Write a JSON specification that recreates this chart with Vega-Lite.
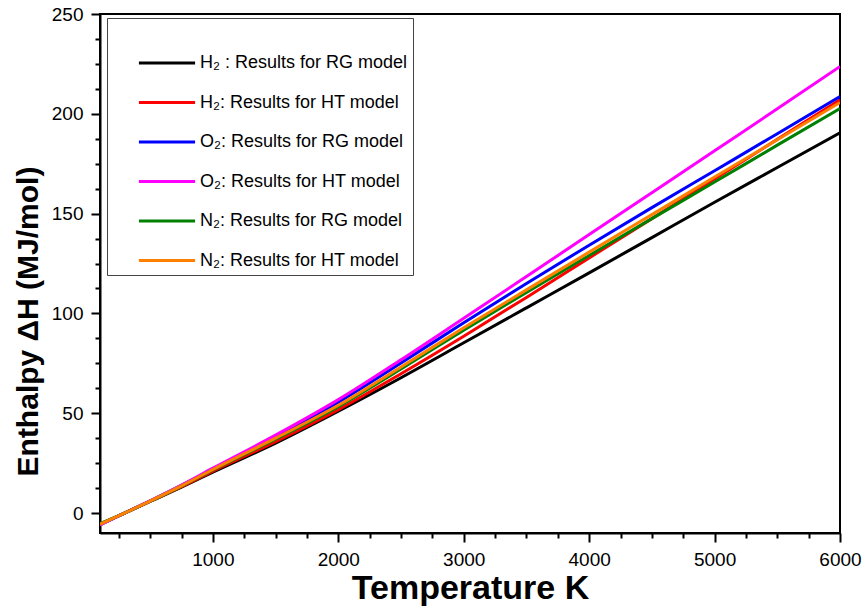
{
  "$schema": "https://vega.github.io/schema/vega-lite/v6.json",
  "width": 740,
  "height": 519,
  "autosize": {"type": "none"},
  "padding": {"left": 100, "top": 14, "right": 26, "bottom": 79},
  "config": {
    "font": "Liberation Sans",
    "view": {"stroke": "black", "strokeWidth": 2},
    "axis": {"grid": false, "domainColor": "black", "domainWidth": 2, "tickColor": "black", "tickWidth": 2, "labelColor": "black", "labelFont": "Liberation Sans", "labelFontSize": 19, "titleColor": "black", "titleFont": "Liberation Sans", "titleFontWeight": "bold"}
  },
  "data": {"values": [
    {"series": "H₂ : Results for RG model", "T": 100, "H": -5.6},
    {"series": "H₂ : Results for RG model", "T": 300, "H": 0.1},
    {"series": "H₂ : Results for RG model", "T": 500, "H": 5.8},
    {"series": "H₂ : Results for RG model", "T": 750, "H": 13.0},
    {"series": "H₂ : Results for RG model", "T": 1000, "H": 20.5},
    {"series": "H₂ : Results for RG model", "T": 1500, "H": 35.0},
    {"series": "H₂ : Results for RG model", "T": 2000, "H": 51.0},
    {"series": "H₂ : Results for RG model", "T": 2500, "H": 67.8},
    {"series": "H₂ : Results for RG model", "T": 3000, "H": 85.3},
    {"series": "H₂ : Results for RG model", "T": 3500, "H": 102.8},
    {"series": "H₂ : Results for RG model", "T": 4000, "H": 120.3},
    {"series": "H₂ : Results for RG model", "T": 4500, "H": 138.0},
    {"series": "H₂ : Results for RG model", "T": 5000, "H": 155.7},
    {"series": "H₂ : Results for RG model", "T": 5500, "H": 173.1},
    {"series": "H₂ : Results for RG model", "T": 6000, "H": 190.5},
    {"series": "H₂: Results for HT model", "T": 100, "H": -5.6},
    {"series": "H₂: Results for HT model", "T": 300, "H": 0.1},
    {"series": "H₂: Results for HT model", "T": 500, "H": 5.9},
    {"series": "H₂: Results for HT model", "T": 750, "H": 13.2},
    {"series": "H₂: Results for HT model", "T": 1000, "H": 21.0},
    {"series": "H₂: Results for HT model", "T": 1500, "H": 35.8},
    {"series": "H₂: Results for HT model", "T": 2000, "H": 51.8},
    {"series": "H₂: Results for HT model", "T": 2500, "H": 69.8},
    {"series": "H₂: Results for HT model", "T": 3000, "H": 88.6},
    {"series": "H₂: Results for HT model", "T": 3500, "H": 108.0},
    {"series": "H₂: Results for HT model", "T": 4000, "H": 127.8},
    {"series": "H₂: Results for HT model", "T": 4500, "H": 147.5},
    {"series": "H₂: Results for HT model", "T": 5000, "H": 167.3},
    {"series": "H₂: Results for HT model", "T": 5500, "H": 187.2},
    {"series": "H₂: Results for HT model", "T": 6000, "H": 207.0},
    {"series": "O₂: Results for RG model", "T": 100, "H": -5.9},
    {"series": "O₂: Results for RG model", "T": 300, "H": 0.1},
    {"series": "O₂: Results for RG model", "T": 500, "H": 6.1},
    {"series": "O₂: Results for RG model", "T": 750, "H": 13.9},
    {"series": "O₂: Results for RG model", "T": 1000, "H": 22.0},
    {"series": "O₂: Results for RG model", "T": 1500, "H": 38.3},
    {"series": "O₂: Results for RG model", "T": 2000, "H": 55.5},
    {"series": "O₂: Results for RG model", "T": 2500, "H": 75.2},
    {"series": "O₂: Results for RG model", "T": 3000, "H": 95.3},
    {"series": "O₂: Results for RG model", "T": 3500, "H": 115.0},
    {"series": "O₂: Results for RG model", "T": 4000, "H": 134.2},
    {"series": "O₂: Results for RG model", "T": 4500, "H": 153.0},
    {"series": "O₂: Results for RG model", "T": 5000, "H": 171.5},
    {"series": "O₂: Results for RG model", "T": 5500, "H": 190.0},
    {"series": "O₂: Results for RG model", "T": 6000, "H": 208.7},
    {"series": "O₂: Results for HT model", "T": 100, "H": -5.9},
    {"series": "O₂: Results for HT model", "T": 300, "H": 0.1},
    {"series": "O₂: Results for HT model", "T": 500, "H": 6.1},
    {"series": "O₂: Results for HT model", "T": 750, "H": 14.0},
    {"series": "O₂: Results for HT model", "T": 1000, "H": 22.5},
    {"series": "O₂: Results for HT model", "T": 1500, "H": 39.0},
    {"series": "O₂: Results for HT model", "T": 2000, "H": 56.8},
    {"series": "O₂: Results for HT model", "T": 2500, "H": 76.8},
    {"series": "O₂: Results for HT model", "T": 3000, "H": 97.6},
    {"series": "O₂: Results for HT model", "T": 3500, "H": 118.5},
    {"series": "O₂: Results for HT model", "T": 4000, "H": 139.5},
    {"series": "O₂: Results for HT model", "T": 4500, "H": 160.5},
    {"series": "O₂: Results for HT model", "T": 5000, "H": 181.5},
    {"series": "O₂: Results for HT model", "T": 5500, "H": 202.5},
    {"series": "O₂: Results for HT model", "T": 6000, "H": 223.7},
    {"series": "N₂: Results for RG model", "T": 100, "H": -5.3},
    {"series": "N₂: Results for RG model", "T": 300, "H": 0.1},
    {"series": "N₂: Results for RG model", "T": 500, "H": 5.9},
    {"series": "N₂: Results for RG model", "T": 750, "H": 13.5},
    {"series": "N₂: Results for RG model", "T": 1000, "H": 21.6},
    {"series": "N₂: Results for RG model", "T": 1500, "H": 37.0},
    {"series": "N₂: Results for RG model", "T": 2000, "H": 53.3},
    {"series": "N₂: Results for RG model", "T": 2500, "H": 72.2},
    {"series": "N₂: Results for RG model", "T": 3000, "H": 91.6},
    {"series": "N₂: Results for RG model", "T": 3500, "H": 110.5},
    {"series": "N₂: Results for RG model", "T": 4000, "H": 129.0},
    {"series": "N₂: Results for RG model", "T": 4500, "H": 147.5},
    {"series": "N₂: Results for RG model", "T": 5000, "H": 165.8},
    {"series": "N₂: Results for RG model", "T": 5500, "H": 184.3},
    {"series": "N₂: Results for RG model", "T": 6000, "H": 202.6},
    {"series": "N₂: Results for HT model", "T": 100, "H": -5.6},
    {"series": "N₂: Results for HT model", "T": 300, "H": 0.1},
    {"series": "N₂: Results for HT model", "T": 500, "H": 6.0},
    {"series": "N₂: Results for HT model", "T": 750, "H": 13.6},
    {"series": "N₂: Results for HT model", "T": 1000, "H": 21.8},
    {"series": "N₂: Results for HT model", "T": 1500, "H": 37.5},
    {"series": "N₂: Results for HT model", "T": 2000, "H": 54.0},
    {"series": "N₂: Results for HT model", "T": 2500, "H": 73.2},
    {"series": "N₂: Results for HT model", "T": 3000, "H": 92.8},
    {"series": "N₂: Results for HT model", "T": 3500, "H": 111.8},
    {"series": "N₂: Results for HT model", "T": 4000, "H": 130.7},
    {"series": "N₂: Results for HT model", "T": 4500, "H": 149.5},
    {"series": "N₂: Results for HT model", "T": 5000, "H": 168.3},
    {"series": "N₂: Results for HT model", "T": 5500, "H": 187.0},
    {"series": "N₂: Results for HT model", "T": 6000, "H": 205.7}
  ]},
  "mark": {"type": "line", "strokeWidth": 3, "interpolate": "monotone", "clip": true},
  "encoding": {
    "x": {
      "field": "T", "type": "quantitative",
      "scale": {"domain": [100, 6000], "nice": false, "zero": false},
      "axis": {
        "title": "Temperature K", "titleFontSize": 34, "titlePadding": 2,
        "values": [250,500,750,1000,1250,1500,1750,2000,2250,2500,2750,3000,3250,3500,3750,4000,4250,4500,4750,5000,5250,5500,5750,6000],
        "format": "d",
        "labelExpr": "datum.value % 1000 === 0 ? datum.label : ''",
        "tickSize": {"condition": {"test": "datum.value % 1000 === 0", "value": 9}, "value": 5},
        "labelPadding": 8, "labelOverlap": false, "labelFlush": false
      }
    },
    "y": {
      "field": "H", "type": "quantitative",
      "scale": {"domain": [-10, 250], "nice": false, "zero": false},
      "axis": {
        "title": "Enthalpy ΔH (MJ/mol)", "titleFontSize": 30, "titleX": -57, "titleY": 307,
        "values": [0,12.5,25,37.5,50,62.5,75,87.5,100,112.5,125,137.5,150,162.5,175,187.5,200,212.5,225,237.5,250],
        "format": "d",
        "labelExpr": "datum.value % 50 === 0 ? datum.label : ''",
        "tickSize": {"condition": {"test": "datum.value % 50 === 0", "value": 9}, "value": 5},
        "labelPadding": 8, "labelOverlap": false, "labelFlush": false
      }
    },
    "color": {
      "field": "series", "type": "nominal",
      "scale": {
        "domain": ["H₂ : Results for RG model", "H₂: Results for HT model", "O₂: Results for RG model", "O₂: Results for HT model", "N₂: Results for RG model", "N₂: Results for HT model"],
        "range": ["#000000", "#FF0000", "#0000FF", "#FF00FF", "#008000", "#FF8000"]
      },
      "legend": {
        "orient": "none", "legendX": 7, "legendY": 4,
        "title": "\u2003\u2003\u2003\u2003\u2003\u2003\u2003\u2003\u2003\u2003\u2003\u2003\u2003\u2003\u2003\u2003\u2003\u2003\u2003\u2003\u2003\u2003\u2003", "titleFontSize": 13.75, "titlePadding": 5.25, "titleLimit": 400,
        "symbolType": "M-1.44,0H1.44", "symbolStrokeWidth": 3, "symbolSize": 1521, "symbolOffset": 34,
        "labelFontSize": 18, "labelFont": "Liberation Sans", "labelColor": "black", "labelOffset": 12, "labelLimit": 400,
        "rowPadding": 9.5,
        "padding": 5, "strokeColor": "#444", "fillColor": "white"
      }
    }
  }
}
